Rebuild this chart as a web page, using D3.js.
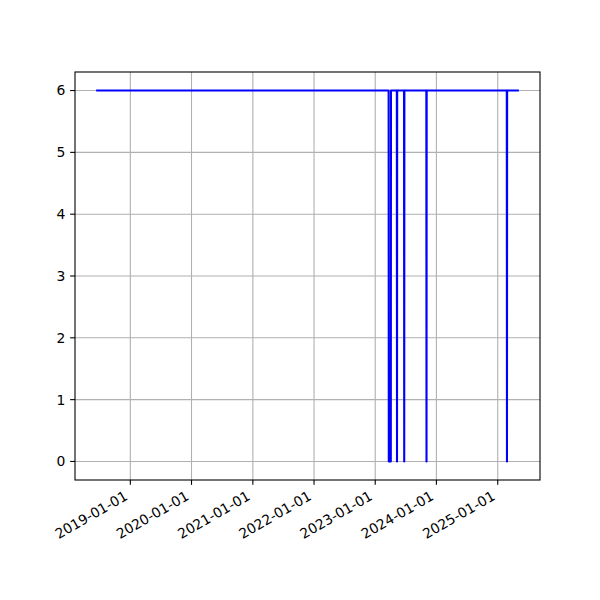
<!DOCTYPE html>
<html><head><meta charset="utf-8">
<script src="https://cdn.jsdelivr.net/npm/d3@7"></script>
<style>body{margin:0;background:#fff}svg{display:block}text{font-family:"DejaVu Sans",sans-serif}</style>
</head><body><div id="chart"></div>
<script>
// step series: dates and values (value 6 with short outages to 0)
const dates = ["2018-06-11","2023-03-22","2023-03-23","2023-04-04","2023-04-05","2023-05-10","2023-05-11","2023-05-12",
  "2023-06-22","2023-06-23","2023-06-24","2023-11-02","2023-11-03","2023-11-04","2025-02-24","2025-02-25","2025-02-26","2025-05-07"];
const values = [6,6,0,0,6,6,0,6,6,0,6,6,0,6,6,0,6,6];
const xTickLabels = ["2019-01-01","2020-01-01","2021-01-01","2022-01-01","2023-01-01","2024-01-01","2025-01-01"];
const yTicks = [0,1,2,3,4,5,6];

const W=600,H=600, L=75, R=540, T=72, B=480;
const parse=d3.timeParse("%Y-%m-%d");
const pts=dates.map((d,i)=>({t:parse(d),v:values[i]}));
const t0=pts[0].t, t1=pts[pts.length-1].t, span=t1-t0;
const x=d3.scaleTime().domain([new Date(+t0-span*0.05), new Date(+t1+span*0.05)]).range([L,R]);
const y=d3.scaleLinear().domain([-0.3,6.3]).range([B,T]);

const svg=d3.select("#chart").append("svg").attr("width",W).attr("height",H);
const tickLen=4.86, fs=13.9;
const xt=xTickLabels.map(parse);
// grid
svg.append("g").selectAll("line").data(xt).join("line")
  .attr("x1",d=>x(d)).attr("x2",d=>x(d)).attr("y1",T).attr("y2",B)
  .attr("stroke","#b0b0b0").attr("stroke-width",1.1);
svg.append("g").selectAll("line").data(yTicks).join("line")
  .attr("x1",L).attr("x2",R).attr("y1",d=>y(d)).attr("y2",d=>y(d))
  .attr("stroke","#b0b0b0").attr("stroke-width",1.1);
// line
svg.append("path").datum(pts)
  .attr("d",d3.line().x(d=>x(d.t)).y(d=>y(d.v)))
  .attr("fill","none").attr("stroke","#0000ff").attr("stroke-width",2.08)
  .attr("stroke-linejoin","round").attr("stroke-linecap","butt");
// spines
svg.append("rect").attr("x",L).attr("y",T).attr("width",R-L).attr("height",B-T)
  .attr("fill","none").attr("stroke","#000").attr("stroke-width",1.1);
// x ticks
const gx=svg.append("g");
gx.selectAll("line").data(xt).join("line")
  .attr("x1",d=>x(d)).attr("x2",d=>x(d)).attr("y1",B).attr("y2",B+tickLen)
  .attr("stroke","#000").attr("stroke-width",1.1);
gx.selectAll("text").data(xt).join("text")
  .attr("transform",d=>`translate(${x(d)-1.7},${498.9}) rotate(-30)`)
  .attr("text-anchor","end").attr("font-size",fs).attr("fill","#000")
  .text((d,i)=>xTickLabels[i]);
// y ticks
const gy=svg.append("g");
gy.selectAll("line").data(yTicks).join("line")
  .attr("x1",L-tickLen).attr("x2",L).attr("y1",d=>y(d)).attr("y2",d=>y(d))
  .attr("stroke","#000").attr("stroke-width",1.1);
gy.selectAll("text").data(yTicks).join("text")
  .attr("x",L-tickLen-4.86).attr("y",d=>y(d)).attr("dy","0.35em")
  .attr("text-anchor","end").attr("font-size",fs).attr("fill","#000")
  .text(d=>d);
</script></body></html>
